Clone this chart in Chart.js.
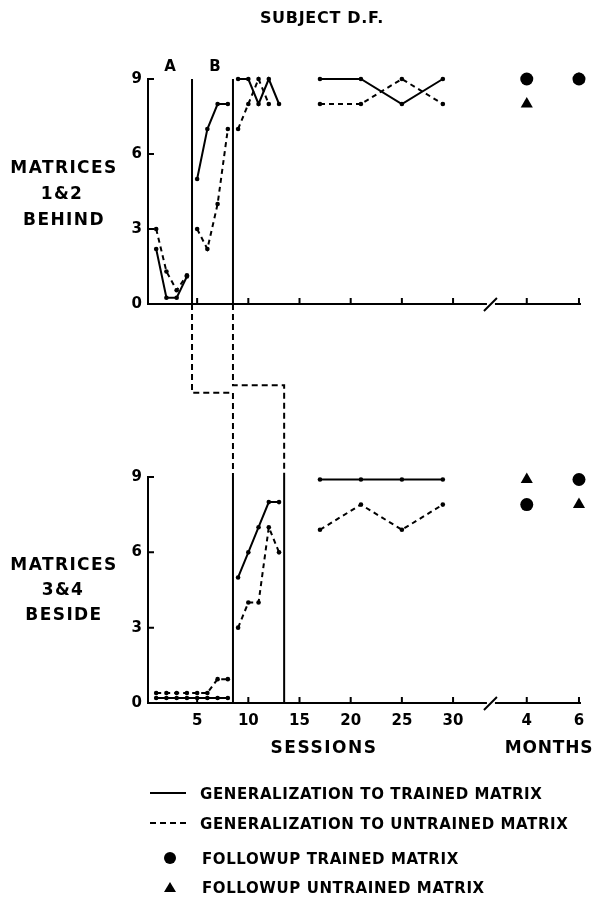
<!DOCTYPE html>
<html>
<head>
<meta charset="utf-8">
<script src="https://cdn.jsdelivr.net/npm/chart.js@4"></script>
<style>
  html, body { margin: 0; padding: 0; background: #fff; }
  #page { position: relative; width: 597px; height: 907px; overflow: hidden; background: #fff; }
  canvas { position: absolute; left: 0; top: 0; }
  .lbl {
    position: absolute; color: #000; white-space: nowrap; line-height: 1;
    font-family: "DejaVu Sans", sans-serif; font-weight: bold;
    transform: translate(-50%, -50%);
  }
  .lbl.left { transform: translate(0, -50%); }
  .key-line { position: absolute; width: 36px; height: 0; border-top: 2px solid #000; }
  .key-line.dashed { border-top-style: dashed; }
  .dot { position: absolute; width: 12px; height: 12px; border-radius: 50%; background: #000; transform: translate(-50%, -50%); }
  .tri { position: absolute; width: 0; height: 0; border-left: 6px solid transparent; border-right: 6px solid transparent; border-bottom: 10px solid #000; transform: translate(-50%, -50%); }
</style>
</head>
<body>
<div id="page">
  <canvas id="topChart" width="597" height="330"></canvas>
  <canvas id="bottomChart" width="597" height="907"></canvas>

  <div class="lbl" style="left:322px;top:18px;font-size:16px;letter-spacing:0.7px">SUBJECT D.F.</div>
  <div class="lbl" style="left:170px;top:66px;font-size:15px">A</div>
  <div class="lbl" style="left:215px;top:66px;font-size:15px">B</div>

  <div class="lbl" style="left:64px;top:167px;font-size:17px;letter-spacing:1.4px">MATRICES</div>
  <div class="lbl" style="left:62px;top:193px;font-size:17px;letter-spacing:1.4px">1&amp;2</div>
  <div class="lbl" style="left:64px;top:219px;font-size:17px;letter-spacing:1.4px">BEHIND</div>

  <div class="lbl" style="left:64px;top:564px;font-size:17px;letter-spacing:1.4px">MATRICES</div>
  <div class="lbl" style="left:63px;top:589px;font-size:17px;letter-spacing:1.4px">3&amp;4</div>
  <div class="lbl" style="left:64px;top:614px;font-size:17px;letter-spacing:1.4px">BESIDE</div>

  <div class="lbl" style="left:324px;top:747px;font-size:17px;letter-spacing:1.5px">SESSIONS</div>
  <div class="lbl" style="left:549px;top:747px;font-size:17px;letter-spacing:0.8px">MONTHS</div>

  <div class="key-line" style="left:150px;top:792px"></div>
  <div class="lbl left" style="left:200px;top:794px;font-size:15px;letter-spacing:0.6px">GENERALIZATION TO TRAINED MATRIX</div>
  <div class="key-line dashed" style="left:150px;top:822px"></div>
  <div class="lbl left" style="left:200px;top:824px;font-size:15px;letter-spacing:0.6px">GENERALIZATION TO UNTRAINED MATRIX</div>
  <div class="dot" style="left:170px;top:858px"></div>
  <div class="lbl left" style="left:202px;top:859px;font-size:15px;letter-spacing:0.6px">FOLLOWUP TRAINED MATRIX</div>
  <div class="tri" style="left:170px;top:887px"></div>
  <div class="lbl left" style="left:202px;top:888px;font-size:15px;letter-spacing:0.6px">FOLLOWUP UNTRAINED MATRIX</div>
</div>
<script>
// axis ticks
const SESSION_TICKS = [5, 10, 15, 20, 25, 30];
const MONTH_TICKS = [4, 6];
const VALUE_TICKS = [0, 3, 6, 9];

// Matrices 1&2 behind (top panel)
const TOP_A_SESSIONS = [1, 2, 3, 4];
const TOP_A_TRAINED = [2.2, 0.25, 0.25, 1.1];
const TOP_A_UNTRAINED = [3, 1.3, 0.55, 1.15];
const TOP_B_SESSIONS = [5, 6, 7, 8];
const TOP_B_TRAINED = [5, 7, 8, 8];
const TOP_B_UNTRAINED = [3, 2.2, 4, 7];
const TOP_C_SESSIONS = [9, 10, 11, 12, 13];
const TOP_C_TRAINED = [9, 9, 8, 9, 8];
const TOP_C_UNTRAINED = [7, 8, 9, 8, null];
const PROBE_SESSIONS = [17, 21, 25, 29];
const TOP_PROBE_TRAINED = [9, 9, 8, 9];
const TOP_PROBE_UNTRAINED = [8, 8, 9, 8];
const FOLLOWUP_MONTHS = [4, 6];
const TOP_FOLLOW_TRAINED = [9, 9];
const TOP_FOLLOW_UNTRAINED = [8, 9];

// Matrices 3&4 beside (bottom panel)
const BOT_A_SESSIONS = [1, 2, 3, 4, 5, 6, 7, 8];
const BOT_A_TRAINED = [0.2, 0.2, 0.2, 0.2, 0.2, 0.2, 0.2, 0.2];
const BOT_A_UNTRAINED = [0.4, 0.4, 0.4, 0.4, 0.4, 0.4, 0.95, 0.95];
const BOT_B_SESSIONS = [9, 10, 11, 12, 13];
const BOT_B_TRAINED = [5, 6, 7, 8, 8];
const BOT_B_UNTRAINED = [3, 4, 4, 7, 6];
const BOT_PROBE_TRAINED = [8.9, 8.9, 8.9, 8.9];
const BOT_PROBE_UNTRAINED = [6.9, 7.9, 6.9, 7.9];
const BOT_FOLLOW_TRAINED = [7.9, 8.9];
const BOT_FOLLOW_UNTRAINED = [8.9, 7.9];

// phase changes (between sessions)
const TOP_PHASES = [4.5, 8.5];
const BOT_PHASES = [8.5, 13.5];

// months sit after the axis break
const monthPos = m => 27 + 2.55 * m;
const BREAK_AT = 33.7;
const FONT = { family: "DejaVu Sans", size: 15, weight: "bold" };

function line(xs, ys, dashed) {
  return {
    data: xs.map((x, i) => ({ x: x, y: ys[i] })),
    borderColor: "#000",
    backgroundColor: "#000",
    borderWidth: 2,
    borderDash: dashed ? [5, 4] : [],
    pointRadius: 2.3,
    pointBorderWidth: 0,
    tension: 0,
    spanGaps: false,
    clip: false
  };
}

function followup(ys, style) {
  return {
    data: FOLLOWUP_MONTHS.map((m, i) => ({ x: monthPos(m), y: ys[i] })),
    showLine: false,
    pointStyle: style,
    pointRadius: style === "circle" ? 6.5 : 7,
    backgroundColor: "#000",
    borderColor: "#000",
    pointBorderWidth: 0,
    clip: false
  };
}

function xAxis(showLabels, height) {
  return {
    type: "linear",
    min: 0.2,
    max: 42.4,
    afterBuildTicks: s => {
      s.ticks = SESSION_TICKS.concat(MONTH_TICKS.map(monthPos)).map(v => ({ value: v }));
    },
    afterFit: s => { s.height = height; },
    ticks: {
      display: showLabels,
      autoSkip: false,
      maxRotation: 0,
      padding: 9,
      color: "#000",
      font: FONT,
      callback: (v, i) => i < SESSION_TICKS.length ? String(SESSION_TICKS[i]) : String(MONTH_TICKS[i - SESSION_TICKS.length])
    },
    grid: { display: false, drawTicks: false },
    border: { display: true, color: "#000", width: 2 }
  };
}

function yAxis() {
  return {
    min: 0,
    max: 9,
    afterBuildTicks: s => { s.ticks = VALUE_TICKS.map(v => ({ value: v })); },
    afterFit: s => { s.width = 148; },
    ticks: { padding: 6, color: "#000", font: FONT },
    grid: { display: false, drawTicks: false },
    border: { display: true, color: "#000", width: 2 }
  };
}

let topChart = null;

// inward tick marks, axis break, phase lines and the step connectors
const decorations = {
  id: "decorations",
  afterDraw(chart, args, opts) {
    const ctx = chart.ctx;
    const x = chart.scales.x, y = chart.scales.y;
    const area = chart.chartArea;
    ctx.save();
    ctx.strokeStyle = "#000";
    ctx.lineWidth = 2;
    ctx.setLineDash([]);
    ctx.beginPath();
    x.ticks.forEach(t => {
      const px = x.getPixelForValue(t.value);
      ctx.moveTo(px, area.bottom);
      ctx.lineTo(px, area.bottom - 6);
    });
    VALUE_TICKS.slice(1).forEach(v => {
      const py = y.getPixelForValue(v);
      ctx.moveTo(area.left, py);
      ctx.lineTo(area.left + 6, py);
    });
    opts.phases.forEach(v => {
      const px = x.getPixelForValue(v);
      ctx.moveTo(px, y.getPixelForValue(9));
      ctx.lineTo(px, y.getPixelForValue(0));
    });
    ctx.stroke();

    // axis break
    const bx = x.getPixelForValue(BREAK_AT);
    ctx.fillStyle = "#fff";
    ctx.fillRect(bx - 4, area.bottom - 2, 8, 4);
    ctx.beginPath();
    ctx.moveTo(bx - 7, area.bottom + 7);
    ctx.lineTo(bx + 6, area.bottom - 6);
    ctx.stroke();

    if (opts.connect && topChart) {
      const tx = topChart.scales.x, ty = topChart.scales.y;
      const steps = [-3.55, -3.25];
      ctx.setLineDash([6, 4]);
      ctx.beginPath();
      TOP_PHASES.forEach((v, i) => {
        const sy = ty.getPixelForValue(steps[i]);
        const x0 = tx.getPixelForValue(v);
        const x1 = x.getPixelForValue(BOT_PHASES[i]);
        ctx.moveTo(x0, ty.getPixelForValue(0));
        ctx.lineTo(x0, sy);
        ctx.lineTo(x1, sy);
        ctx.lineTo(x1, y.getPixelForValue(9));
      });
      ctx.stroke();
    }
    ctx.restore();
  }
};

function makeChart(id, datasets, padTop, xHeight, showLabels, phases, connect) {
  return new Chart(document.getElementById(id).getContext("2d"), {
    type: "line",
    data: { datasets: datasets },
    options: {
      responsive: false,
      animation: false,
      devicePixelRatio: 1,
      layout: { padding: { top: padTop, right: 17, left: 0, bottom: 0 } },
      scales: { x: xAxis(showLabels, xHeight), y: yAxis() },
      plugins: {
        legend: { display: false },
        tooltip: { enabled: false },
        decorations: { phases: phases, connect: connect }
      }
    },
    plugins: [decorations]
  });
}

topChart = makeChart("topChart", [
  line(TOP_A_SESSIONS, TOP_A_TRAINED, false),
  line(TOP_A_SESSIONS, TOP_A_UNTRAINED, true),
  line(TOP_B_SESSIONS, TOP_B_TRAINED, false),
  line(TOP_B_SESSIONS, TOP_B_UNTRAINED, true),
  line(TOP_C_SESSIONS, TOP_C_TRAINED, false),
  line(TOP_C_SESSIONS, TOP_C_UNTRAINED, true),
  line(PROBE_SESSIONS, TOP_PROBE_TRAINED, false),
  line(PROBE_SESSIONS, TOP_PROBE_UNTRAINED, true),
  followup(TOP_FOLLOW_TRAINED, "circle"),
  followup(TOP_FOLLOW_UNTRAINED, "triangle")
], 79, 26, false, TOP_PHASES, false);

makeChart("bottomChart", [
  line(BOT_A_SESSIONS, BOT_A_TRAINED, false),
  line(BOT_A_SESSIONS, BOT_A_UNTRAINED, true),
  line(BOT_B_SESSIONS, BOT_B_TRAINED, false),
  line(BOT_B_SESSIONS, BOT_B_UNTRAINED, true),
  line(PROBE_SESSIONS, BOT_PROBE_TRAINED, false),
  line(PROBE_SESSIONS, BOT_PROBE_UNTRAINED, true),
  followup(BOT_FOLLOW_TRAINED, "circle"),
  followup(BOT_FOLLOW_UNTRAINED, "triangle")
], 477, 204, true, BOT_PHASES, true);
</script>
</body>
</html>
